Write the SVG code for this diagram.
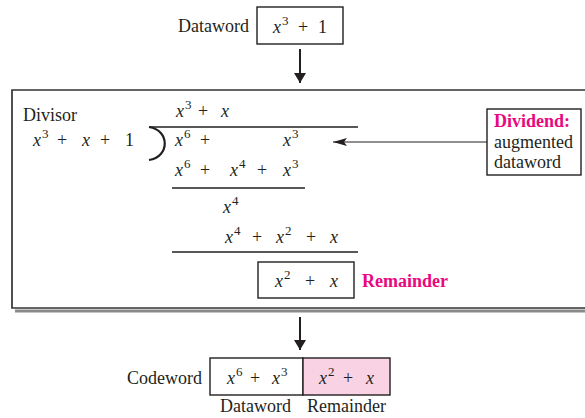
<svg xmlns="http://www.w3.org/2000/svg" width="585" height="418" viewBox="0 0 585 418" font-family="'Liberation Serif', 'Times New Roman', serif">
<defs>
<style>
text{font-family:"Liberation Serif","Times New Roman",serif;font-size:18px;fill:#231f20}
.m{font-style:italic}
.s{font-size:13px;font-style:normal}
.n{font-style:normal}
.b{font-weight:bold;fill:#e8087f}
.box{fill:#fff;stroke:#231f20;stroke-width:1.4}
.rule{stroke:#231f20;stroke-width:1.4;fill:none}
</style>
<marker id="ah" viewBox="0 0 10 12" refX="10" refY="6" markerWidth="10" markerHeight="12" markerUnits="userSpaceOnUse" orient="auto"><path d="M0,0 L10,6 L0,12 z" fill="#231f20"/></marker>
<marker id="ah2" viewBox="0 0 14 8" refX="14" refY="4" markerWidth="14" markerHeight="8" markerUnits="userSpaceOnUse" orient="auto"><path d="M0,0 L14,4 L0,8 L3,4 z" fill="#231f20"/></marker>
</defs>

<g id="dataword">
<text x="178" y="32">Dataword</text>
<rect class="box" x="257" y="7" width="86" height="37"/>
<text class="m" y="33"><tspan x="273">x</tspan><tspan class="s" x="282" dy="-8">3</tspan><tspan class="n" x="298" dy="8">+</tspan><tspan class="n" x="318">1</tspan></text>
</g>

<g id="division">
<path d="M585,90 L12,90 L12,308 L585,308" fill="none" stroke="#333" stroke-width="1.7"/>
<rect x="15" y="309.5" width="570" height="3" fill="#8a8a8a"/>
<text x="23" y="121">Divisor</text>
<text class="m" y="146"><tspan x="33">x</tspan><tspan class="s" x="42" dy="-8">3</tspan><tspan class="n" x="57" dy="8">+</tspan><tspan x="82">x</tspan><tspan class="n" x="100">+</tspan><tspan class="n" x="125">1</tspan></text>
<path class="rule" d="M149,127 L358,127"/>
<path d="M149,127 C170,130 170,157 149,160" fill="none" stroke="#231f20" stroke-width="2.2"/>
<text class="m" y="117"><tspan x="176">x</tspan><tspan class="s" x="185" dy="-8">3</tspan><tspan class="n" x="198" dy="8">+</tspan><tspan x="221">x</tspan></text>
<text class="m" y="146"><tspan x="175">x</tspan><tspan class="s" x="184" dy="-8">6</tspan><tspan class="n" x="200" dy="8">+</tspan><tspan x="283">x</tspan><tspan class="s" x="292" dy="-8">3</tspan></text>
<text class="m" y="176"><tspan x="175">x</tspan><tspan class="s" x="184" dy="-8">6</tspan><tspan class="n" x="200" dy="8">+</tspan><tspan x="230">x</tspan><tspan class="s" x="239" dy="-8">4</tspan><tspan class="n" x="257" dy="8">+</tspan><tspan x="283">x</tspan><tspan class="s" x="292" dy="-8">3</tspan></text>
<path class="rule" d="M172,188 L305,188"/>
<text class="m" y="213"><tspan x="223">x</tspan><tspan class="s" x="232" dy="-8">4</tspan></text>
<text class="m" y="243"><tspan x="225">x</tspan><tspan class="s" x="234" dy="-8">4</tspan><tspan class="n" x="252" dy="8">+</tspan><tspan x="276">x</tspan><tspan class="s" x="285" dy="-8">2</tspan><tspan class="n" x="306" dy="8">+</tspan><tspan x="330">x</tspan></text>
<path class="rule" d="M172,252 L358,252"/>
</g>

<g id="remainder">
<rect class="box" x="258" y="262" width="96" height="36"/>
<text class="m" y="287"><tspan x="275">x</tspan><tspan class="s" x="284" dy="-8">2</tspan><tspan class="n" x="305" dy="8">+</tspan><tspan x="330">x</tspan></text>
<text class="b" x="362" y="287">Remainder</text>
</g>

<g id="dividend">
<rect class="box" x="487" y="109" width="94" height="66"/>
<text class="b" x="494" y="127">Dividend:</text>
<text x="494" y="148">augmented</text>
<text x="494" y="168">dataword</text>
</g>

<g id="codeword">
<text x="127" y="384">Codeword</text>
<rect class="box" x="210" y="358" width="93" height="37"/>
<rect x="303" y="358" width="87" height="37" fill="#f9d3e4" stroke="#231f20" stroke-width="1.4"/>
<text class="m" y="384"><tspan x="227">x</tspan><tspan class="s" x="236" dy="-8">6</tspan><tspan class="n" x="250" dy="8">+</tspan><tspan x="272">x</tspan><tspan class="s" x="281" dy="-8">3</tspan></text>
<text class="m" y="384"><tspan x="319">x</tspan><tspan class="s" x="328" dy="-8">2</tspan><tspan class="n" x="343" dy="8">+</tspan><tspan x="366">x</tspan></text>
<text x="220" y="412">Dataword</text>
<text x="307" y="412">Remainder</text>
</g>

<g id="connectors">
<line x1="300" y1="49" x2="300" y2="83" stroke="#231f20" stroke-width="2" marker-end="url(#ah)"/>
<line x1="300" y1="317" x2="300" y2="350" stroke="#231f20" stroke-width="2" marker-end="url(#ah)"/>
<line x1="487" y1="142" x2="333" y2="142" stroke="#231f20" stroke-width="1.2" marker-end="url(#ah2)"/>
</g>
</svg>
